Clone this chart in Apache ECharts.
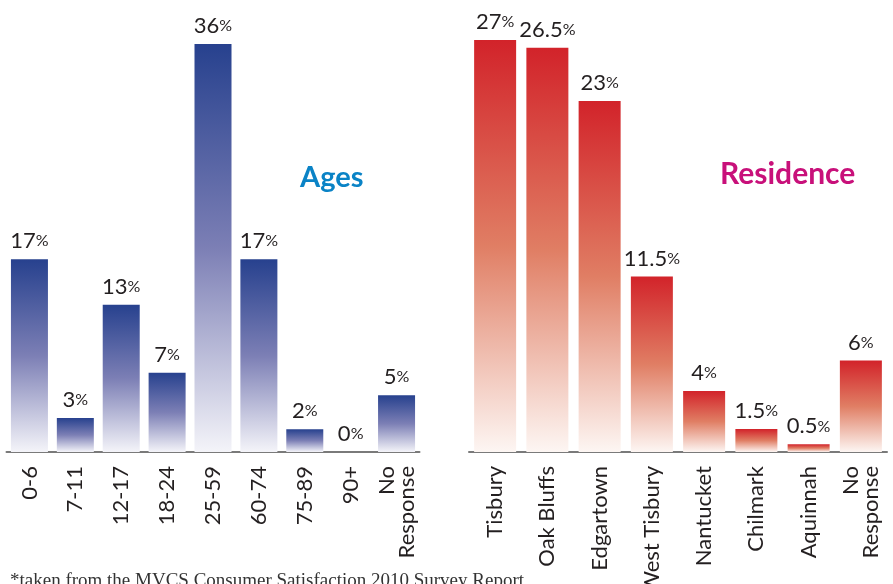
<!DOCTYPE html>
<html>
<head>
<meta charset="utf-8">
<script src="https://cdn.jsdelivr.net/npm/echarts@6/dist/echarts.min.js"></script>
<style>
html,body{margin:0;padding:0;background:#fff;}
#chart{width:893px;height:584px;}
</style>
</head>
<body>
<div id="chart"></div>
<script>
const ageCategories = ['0-6','7-11','12-17','18-24','25-59','60-74','75-89','90+','No\nResponse'];
const ageValues = [17,3,13,7,36,17,2,0,5];
const resCategories = ['Tisbury','Oak Bluffs','Edgartown','West Tisbury','Nantucket','Chilmark','Aquinnah','No\nResponse'];
const resValues = [27,26.5,23,11.5,4,1.5,0.5,6];
const titles = ['Ages','Residence'];
const footnote = '*taken from the MVCS Consumer Satisfaction 2010 Survey Report';

const FONT = 'Lato, "Open Sans", sans-serif';
const chart = echarts.init(document.getElementById('chart'));

function grad(top, mid, bottom){
  return new echarts.graphic.LinearGradient(0,0,0,1,[
    {offset:0,color:top},{offset:0.5,color:mid},{offset:1,color:bottom}
  ]);
}
const labelCfg = {
  show:true, position:'top', distance:7,
  formatter: p => '{n|' + p.value + '}{p|%}',
  rich:{
    n:{fontSize:22, color:'#231f20', fontFamily:FONT},
    p:{fontSize:16, color:'#231f20', fontFamily:FONT}
  }
};
const xAxisBase = {
  type:'category',
  axisTick:{show:false},
  axisLine:{lineStyle:{color:'#7a7a7a', width:2}},
  axisLabel:{rotate:90, fontSize:22, color:'#231f20', fontFamily:FONT, margin:14, lineHeight:20, interval:0}
};
const yAxisBase = {type:'value', min:0, show:false, splitLine:{show:false}};

chart.setOption({
  animation:false,
  title:[
    {text:titles[0], left:295, top:158, textStyle:{fontSize:29, fontWeight:'bold', color:'#0a83c6', fontFamily:FONT}},
    {text:titles[1], left:715, top:154, textStyle:{fontSize:30, fontWeight:'bold', color:'#c8107a', fontFamily:FONT}}
  ],
  grid:[
    {left:6.5, width:413, top:44, height:408, containLabel:false, outerBoundsMode:'none'},
    {left:469, width:418, top:40, height:412, containLabel:false, outerBoundsMode:'none'}
  ],
  xAxis:[
    Object.assign({}, xAxisBase, {gridIndex:0, data:ageCategories}),
    Object.assign({}, xAxisBase, {gridIndex:1, data:resCategories})
  ],
  yAxis:[
    Object.assign({}, yAxisBase, {gridIndex:0, max:36}),
    Object.assign({}, yAxisBase, {gridIndex:1, max:27})
  ],
  series:[
    {type:'bar', xAxisIndex:0, yAxisIndex:0, data:ageValues, barWidth:37,
     itemStyle:{color:grad('#27418e','#7c7fb5','#f4f4f9')}, label:labelCfg},
    {type:'bar', xAxisIndex:1, yAxisIndex:1, data:resValues, barWidth:42,
     itemStyle:{color:grad('#d2232a','#e07e64','#fdf6f3')}, label:labelCfg}
  ],
  graphic:[
    {type:'text', left:10, top:572, style:{text:footnote, fontSize:19, fill:'#333', fontFamily:'"Liberation Serif", "DejaVu Serif", serif'}}
  ]
});
</script>
</body>
</html>
